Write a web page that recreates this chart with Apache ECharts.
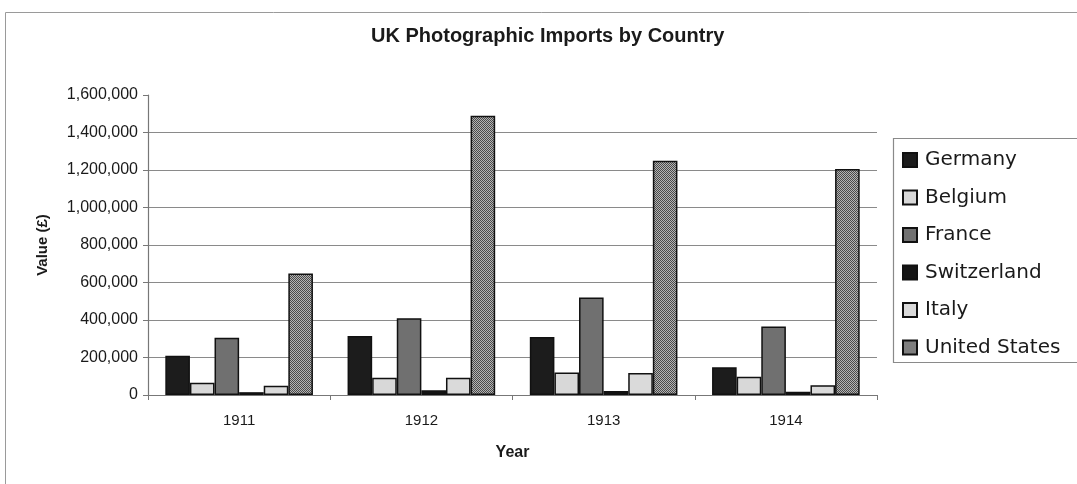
<!DOCTYPE html>
<html>
<head>
<meta charset="utf-8">
<script src="https://cdn.jsdelivr.net/npm/echarts@6/dist/echarts.min.js"></script>
<style>
  html, body { margin: 0; padding: 0; background: #fff; }
  #chart { width: 1077px; height: 484px; }
</style>
</head>
<body>
<div id="chart"></div>
<script>
// Import values in pounds sterling, by year and country of origin
const years = ['1911', '1912', '1913', '1914'];
const germany     = [210000, 315000, 310000, 148000];
const belgium     = [65000, 92000, 120000, 98000];
const france      = [305000, 410000, 520000, 365000];
const switzerland = [15000, 25000, 22000, 18000];
const italy       = [50000, 92000, 118000, 52000];
const unitedStates = [648000, 1490000, 1250000, 1205000];

// Fine checker texture used for the United States bars
function checkerPattern() {
  const c = document.createElement('canvas');
  c.width = 2; c.height = 2;
  const ctx = c.getContext('2d');
  ctx.fillStyle = '#b4b4b4'; ctx.fillRect(0, 0, 2, 2);
  ctx.fillStyle = '#4a4a4a'; ctx.fillRect(0, 0, 1, 1); ctx.fillRect(1, 1, 1, 1);
  return { image: c, repeat: 'repeat' };
}

const font = '"Liberation Sans", Arial, sans-serif';

function barSeries(name, data, fill) {
  return {
    name: name,
    type: 'bar',
    data: data,
    barGap: '0%',
    barCategoryGap: '19%',
    itemStyle: { color: fill, borderColor: '#111', borderWidth: 1.5 }
  };
}

const chart = echarts.init(document.getElementById('chart'));
chart.setOption({
  animation: false,
  backgroundColor: '#fff',
  title: {
    text: 'UK Photographic Imports by Country',
    left: 371,
    top: 26,
    padding: 0,
    textStyle: { fontFamily: font, fontSize: 20, fontWeight: 'bold', color: '#1a1a1a' }
  },
  graphic: [
    // outer chart frame
    { type: 'rect', shape: { x: 5.5, y: 12.5, width: 1100, height: 500 },
      style: { fill: 'none', stroke: '#9a9a9a', lineWidth: 1 }, silent: true, z: -10 },
    // legend frame
    { type: 'rect', shape: { x: 893.5, y: 138.5, width: 200, height: 224 },
      style: { fill: 'none', stroke: '#8a8a8a', lineWidth: 1.2 }, silent: true, z: -5 }
  ],
  legend: {
    orient: 'vertical',
    left: 902,
    top: 150,
    padding: 0,
    icon: 'rect',
    itemWidth: 14,
    itemHeight: 14,
    itemGap: 17.5,
    textStyle: { fontFamily: '"DejaVu Sans", sans-serif', fontSize: 20, lineHeight: 20, color: '#1a1a1a', padding: [0, 0, 0, 3] },
    data: ['Germany', 'Belgium', 'France', 'Switzerland', 'Italy', 'United States']
  },
  grid: { left: 148, right: 200, top: 95, bottom: 89, containLabel: false },
  xAxis: {
    type: 'category',
    data: years,
    name: 'Year',
    nameLocation: 'middle',
    nameGap: 50,
    nameTextStyle: { fontFamily: font, fontSize: 16, fontWeight: 'bold', color: '#1a1a1a' },
    axisLine: { lineStyle: { color: '#777', width: 1.2 } },
    axisTick: { show: true, length: 5, lineStyle: { color: '#777' } },
    axisLabel: { fontFamily: font, fontSize: 15, color: '#1a1a1a', margin: 18 }
  },
  yAxis: {
    type: 'value',
    min: 0,
    max: 1600000,
    interval: 200000,
    name: 'Value (£)',
    nameLocation: 'middle',
    nameGap: 98,
    nameRotate: 90,
    nameTextStyle: { fontFamily: font, fontSize: 15, fontWeight: 'bold', color: '#1a1a1a' },
    axisLine: { show: true, lineStyle: { color: '#777', width: 1.2 } },
    axisTick: { show: true, length: 5, lineStyle: { color: '#777' } },
    axisLabel: {
      fontFamily: font, fontSize: 16, color: '#1a1a1a', margin: 10,
      formatter: v => v.toLocaleString('en-US')
    },
    splitLine: { show: true, showMaxLine: false, lineStyle: { color: '#8a8a8a', width: 1.2 } }
  },
  series: [
    barSeries('Germany', germany, '#1c1c1c'),
    barSeries('Belgium', belgium, '#d8d8d8'),
    barSeries('France', france, '#707070'),
    barSeries('Switzerland', switzerland, '#151515'),
    barSeries('Italy', italy, '#dadada'),
    barSeries('United States', unitedStates, checkerPattern())
  ]
});
</script>
</body>
</html>
